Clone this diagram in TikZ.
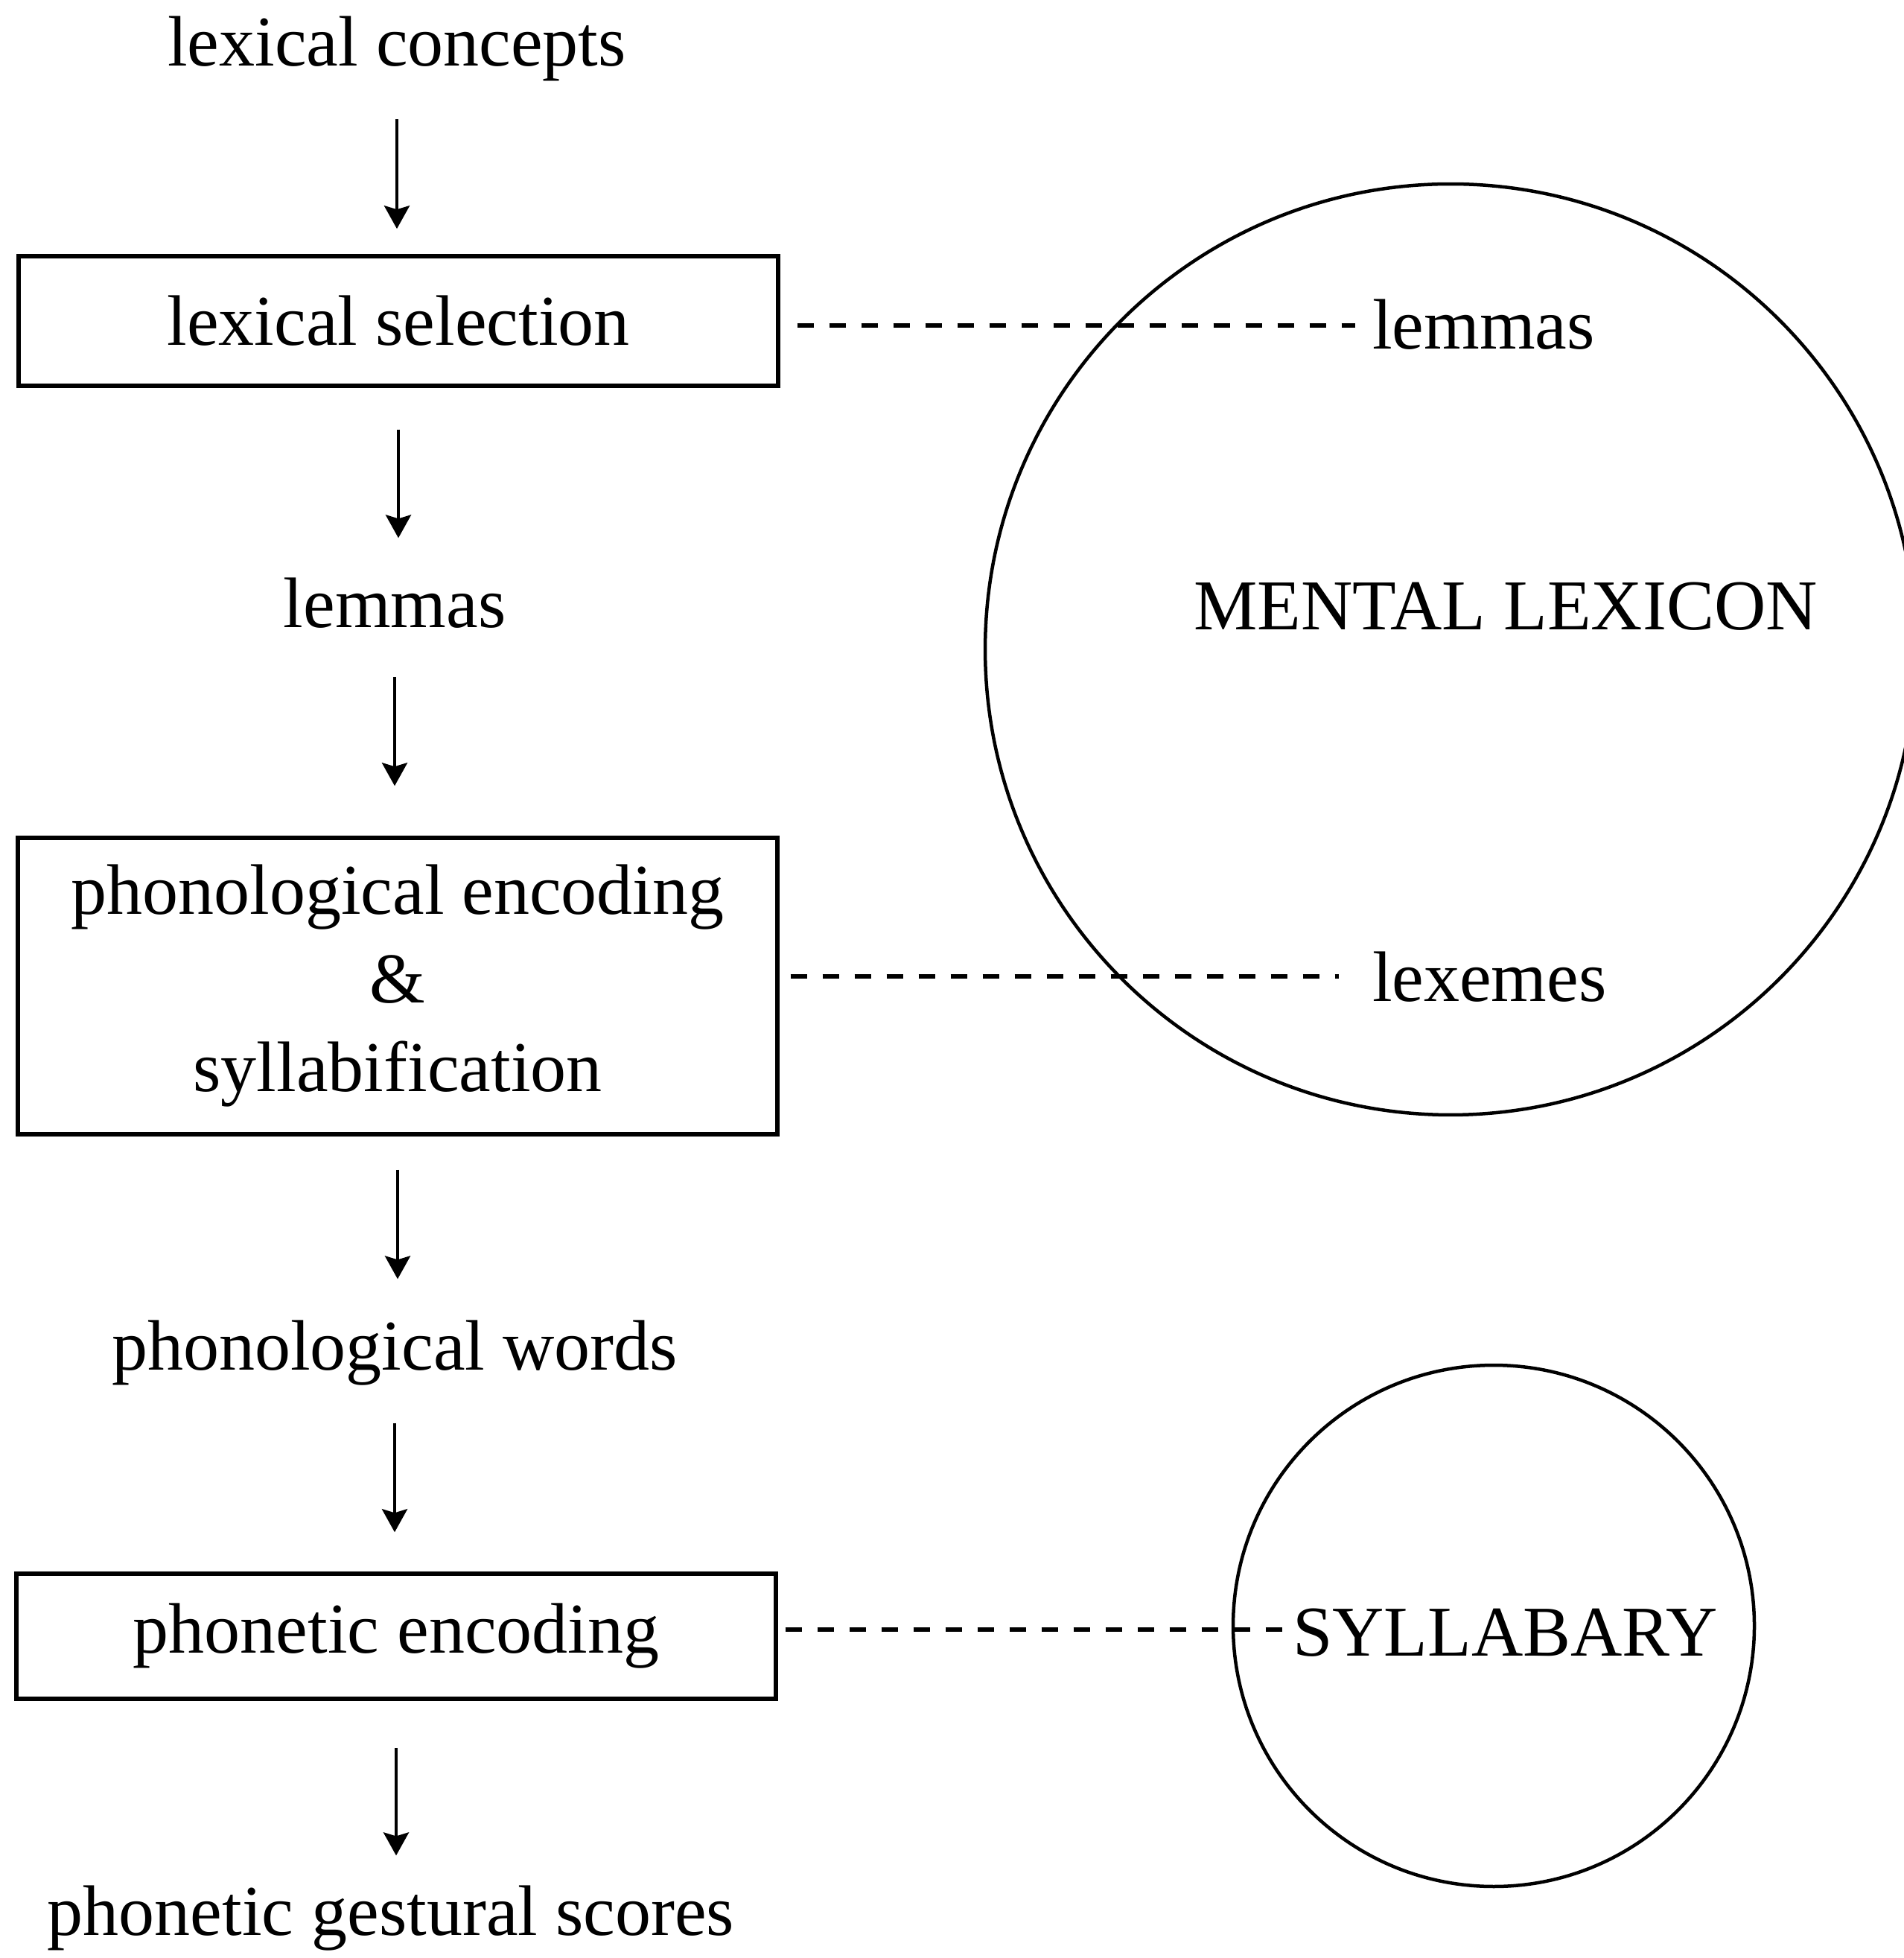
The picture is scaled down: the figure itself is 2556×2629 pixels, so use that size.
\documentclass[tikz,border=0pt]{standalone}
\usepackage{fontspec}
\setmainfont{Liberation Serif}
\usetikzlibrary{arrows.meta}
\begin{document}
\begin{tikzpicture}[x=0.1pt,y=-0.1pt,
  every node/.style={inner sep=0pt, font=\fontsize{9.6pt}{11.9pt}\selectfont},
  txt/.style={anchor=base},
  stagebox/.style={draw, line width=0.55pt, minimum width=102pt, align=center},
  memory/.style={draw, circle, line width=0.45pt},
  arr/.style={line width=0.45pt, -{Stealth[length=3.1pt,width=3.4pt,inset=0.5pt]}},
  dashline/.style={line width=0.6pt, dash pattern=on 2.2pt off 2.1pt}]
\useasboundingbox (0,0) rectangle (2556,2629);
% left column
\node[txt] (lc) at (533,89) {lexical concepts};
\node[stagebox, minimum height=17.4pt] (sel) at (535,431) {lexical selection};
\node[txt] (lem) at (530,843) {lemmas};
\node[stagebox, minimum height=39.8pt] (phon) at (534,1324) {phonological encoding\\\&\\syllabification};
\node[txt] (pw) at (530,1839) {phonological words};
\node[stagebox, minimum height=16.8pt] (pe) at (532,2197) {phonetic encoding};
\node[txt] (pgs) at (525,2598) {phonetic gestural scores};
% right side
\node[memory, minimum size=125pt] (lex) at (1948,872) {};
\node[txt] (mlt) at (2022,846) {MENTAL LEXICON};
\node[anchor=base west] (lemR) at (1841,469) {lemmas};
\node[anchor=base west] (lexR) at (1841,1345) {lexemes};
\node[memory, minimum size=70pt] (syl) at (2006,2183) {};
\node[anchor=base west] (sylt) at (1734,2223) {SYLLABARY};
% arrows
\draw[arr, shorten <=4.9pt, shorten >=3.4pt] (lc.south) -- (lc.south |- sel.north);
\draw[arr, shorten <=5.6pt, shorten >=5.2pt] (sel.south) -- (sel.south |- lem.north);
\draw[arr, shorten <=6.3pt, shorten >=6.7pt] (lem.south) -- (lem.south |- phon.north);
\draw[arr, shorten <=4.5pt, shorten >=5.3pt] (phon.south) -- (phon.south |- pw.north);
\draw[arr, shorten <=4.9pt, shorten >=5.3pt] (pw.south) -- (pw.south |- pe.north);
\draw[arr, shorten <=6.3pt, shorten >=3.8pt] (pe.south) -- (pe.south |- pgs.north);
% dashed links
\draw[dashline, shorten <=2.3pt, shorten >=2.1pt] ([yshift=-0.6pt]sel.east) -- ([yshift=-0.6pt]sel.east -| lemR.west);
\draw[dashline, shorten <=1.5pt, shorten >=4.3pt] ([yshift=1.3pt]phon.east) -- ([yshift=1.3pt]phon.east -| lexR.west);
\draw[dashline, shorten <=1.0pt, shorten >=0.7pt] ([yshift=0.9pt]pe.east) -- ([yshift=0.9pt]pe.east -| sylt.west);
\end{tikzpicture}
\end{document}
